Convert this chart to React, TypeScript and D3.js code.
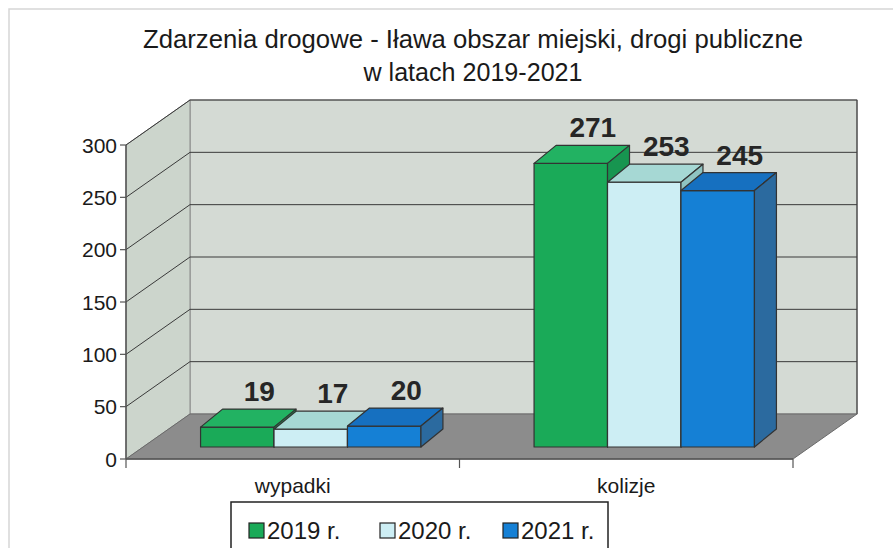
import * as d3 from 'd3';

const categories = ['wypadki', 'kolizje'];
const seriesNames = ['2019 r.', '2020 r.', '2021 r.'];
const values2019 = [19, 271];
const values2020 = [17, 253];
const values2021 = [20, 245];
const yTicks = [0, 50, 100, 150, 200, 250, 300];

const seriesValues = [values2019, values2020, values2021];
const faceColors = [
  { front: '#1aaa58', top: '#22b262', side: '#179550' },
  { front: '#cdeef4', top: '#a6d8d4', side: '#8fc4c2' },
  { front: '#1580d5', top: '#1670c0', side: '#2b6a9f' },
];

const W = 893;
const H = 548;
// front plane of the 3D box
const left = 126;
const right = 793;
const depthX = 64;
const depthY = -45;
// bars sit inside the depth
const barOffX = 18;
const barOffY = -12;
const barDX = 22;
const barDY = -18;

const y = d3.scaleLinear().domain([0, 300]).range([459, 145]);
const x0 = d3.scaleBand<string>().domain(categories).range([left, right]).padding(0);
const x1 = d3
  .scaleBand<string>()
  .domain(seriesNames)
  .range([0, x0.bandwidth()])
  .paddingInner(0)
  .paddingOuter(0.77);

const font = '"Liberation Sans", Arial, sans-serif';
const pts = (p: [number, number][]) => p.map((d) => d.join(',')).join(' ');

export default function App() {
  const y0 = y(0);
  const yTop = y(300);

  const bars: JSX.Element[] = [];
  const labels: JSX.Element[] = [];
  categories.forEach((cat, ci) => {
    seriesNames.forEach((s, si) => {
      const v = seriesValues[si][ci];
      const bx = (x0(cat) ?? 0) + (x1(s) ?? 0) + barOffX;
      const bw = x1.bandwidth();
      const base = y0 + barOffY;
      const top = y(v) + barOffY;
      const c = faceColors[si];
      bars.push(
        <g key={`${cat}-${s}`} stroke="#333" strokeWidth={1.2} strokeLinejoin="round">
          <rect x={bx} y={top} width={bw} height={base - top} fill={c.front} />
          <polygon
            fill={c.top}
            points={pts([
              [bx, top],
              [bx + bw, top],
              [bx + bw + barDX, top + barDY],
              [bx + barDX, top + barDY],
            ])}
          />
          <polygon
            fill={c.side}
            points={pts([
              [bx + bw, top],
              [bx + bw + barDX, top + barDY],
              [bx + bw + barDX, base + barDY],
              [bx + bw, base],
            ])}
          />
        </g>
      );
      labels.push(
        <text
          key={`l-${cat}-${s}`}
          x={bx + bw / 2 + 22}
          y={top + barDY - 8}
          textAnchor="middle"
          fontFamily={font}
          fontWeight="bold"
          fontSize={28}
          fill="#262626"
        >
          {v}
        </text>
      );
    });
  });

  const legendX = [249, 380, 503];

  return (
    <svg
      width={W}
      height={H}
      style={{ position: 'absolute', left: 0, top: 0, background: '#fff' }}
    >
      <rect x={9} y={9} width={W} height={H} fill="none" stroke="#d6d6d6" strokeWidth={1.5} />

      <text x={473} y={48} textAnchor="middle" fontFamily={font} fontSize={26} fill="#1a1a1a" textLength={660} lengthAdjust="spacingAndGlyphs">
        Zdarzenia drogowe - Iława obszar miejski, drogi publiczne
      </text>
      <text x={473} y={81} textAnchor="middle" fontFamily={font} fontSize={26} fill="#1a1a1a" textLength={219} lengthAdjust="spacingAndGlyphs">
        w latach 2019-2021
      </text>

      {/* back wall */}
      <rect
        x={left + depthX}
        y={yTop + depthY}
        width={right - left}
        height={y0 - yTop}
        fill="#d4dad4"
        stroke="#8a8a8a"
        strokeWidth={1}
      />
      {/* left wall */}
      <polygon
        fill="#ccd5cc"
        stroke="#8a8a8a"
        strokeWidth={1}
        points={pts([
          [left, y0],
          [left, yTop],
          [left + depthX, yTop + depthY],
          [left + depthX, y0 + depthY],
        ])}
      />
      {/* gridlines */}
      {yTicks.slice(1).map((t) => (
        <g key={`g-${t}`} stroke="#3a3a3a" strokeWidth={1}>
          <line x1={left} y1={y(t)} x2={left + depthX} y2={y(t) + depthY} />
          <line x1={left + depthX} y1={y(t) + depthY} x2={right + depthX} y2={y(t) + depthY} />
        </g>
      ))}
      <line x1={right + depthX} y1={yTop + depthY} x2={right + depthX} y2={y0 + depthY} stroke="#444" strokeWidth={1.2} />
      {/* floor */}
      <polygon
        fill="#8c8c8c"
        stroke="#6a6a6a"
        strokeWidth={1}
        points={pts([
          [left, y0],
          [right, y0],
          [right + depthX, y0 + depthY],
          [left + depthX, y0 + depthY],
        ])}
      />

      {bars}
      {labels}

      {/* y axis */}
      <line x1={left} y1={yTop} x2={left} y2={y0} stroke="#555" strokeWidth={1.5} />
      {yTicks.map((t) => (
        <g key={`t-${t}`}>
          <line x1={left - 6} y1={y(t)} x2={left} y2={y(t)} stroke="#555" strokeWidth={1.2} />
          <text x={left - 9} y={y(t) + 7.5} textAnchor="end" fontFamily={font} fontSize={21} fill="#1a1a1a">
            {t}
          </text>
        </g>
      ))}

      {/* x axis */}
      <line x1={left} y1={y0} x2={right} y2={y0} stroke="#555" strokeWidth={1.5} />
      {[left, ...categories.map((c) => (x0(c) ?? 0) + x0.bandwidth())].map((xv, i) => (
        <line key={`xt-${i}`} x1={xv} y1={y0} x2={xv} y2={y0 + 9} stroke="#555" strokeWidth={1.2} />
      ))}
      {categories.map((c) => (
        <text
          key={`c-${c}`}
          x={(x0(c) ?? 0) + x0.bandwidth() / 2}
          y={493}
          textAnchor="middle"
          fontFamily={font}
          fontSize={21}
          fill="#1a1a1a"
        >
          {c}
        </text>
      ))}

      {/* legend */}
      <rect x={231} y={502} width={377} height={70} fill="#fff" stroke="#222" strokeWidth={1.5} />
      {seriesNames.map((s, i) => (
        <g key={`lg-${s}`}>
          <rect x={legendX[i]} y={523} width={15} height={15} fill={faceColors[i].front} stroke="#222" strokeWidth={1.2} />
          <text x={legendX[i] + 18} y={539} fontFamily={font} fontSize={24} fill="#1a1a1a">
            {s}
          </text>
        </g>
      ))}
    </svg>
  );
}
